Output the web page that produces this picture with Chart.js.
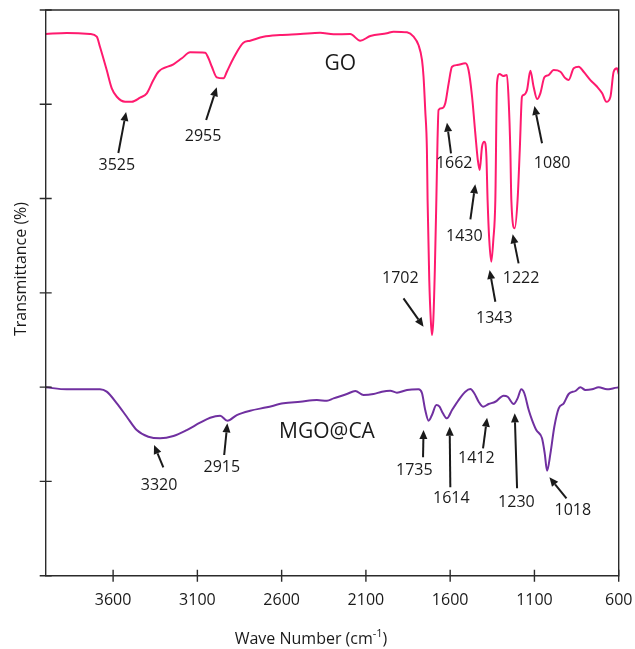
<!DOCTYPE html>
<html><head><meta charset="utf-8">
<script src="https://cdn.jsdelivr.net/npm/chart.js@4.4.1/dist/chart.umd.min.js"></script>
<style>html,body{margin:0;padding:0;background:#fff}canvas{display:block}</style>
</head><body>
<canvas id="c" width="635" height="649"></canvas>
<script>
// ---- data ----
const goWave = [4000,3875,3737,3697,3678,3638,3608,3578,3529,3489,3440,3400,3361,3331,3242,3192,3143,3054,3034,3014,2985,2945,2925,2886,2827,2787,2708,2609,2490,2372,2292,2193,2134,2074,1975,1936,1856,1817,1788,1767,1758,1748,1738,1734,1724,1715,1708,1700,1691,1682,1675,1669,1649,1629,1609,1589,1559,1510,1491,1470,1451,1436,1425,1411,1397,1385,1378,1368,1356,1344,1332,1322,1307,1285,1263,1253,1243,1237,1217,1200,1187,1174,1164,1144,1124,1105,1084,1065,1041,1016,986,946,916,897,867,837,808,768,728,698,673,649,630,610,600];
const goT = [57.45,57.56,57.45,57.17,56.1,53.63,51.69,50.8,50.27,50.27,50.7,51.16,52.57,53.45,54.24,54.88,55.51,55.47,54.88,53.98,52.86,52.75,53.45,54.88,56.53,56.74,57.17,57.35,57.45,57.59,57.42,57.45,56.74,57.24,57.53,57.70,57.63,57.17,56.29,54.69,52.92,49.39,45.15,39.85,31.36,27.12,25.53,27.12,32.42,39.85,46.21,49.39,49.57,50.10,52.22,53.98,54.16,54.34,53.63,50.8,46.95,44.09,43.03,45.5,46.03,44.44,39.85,35.6,33.3,35.6,39.85,52.26,53.21,53.0,53.1,50.45,45.15,39.85,36.85,39.85,45.15,50.8,50.98,51.51,53.56,51.86,50.56,51.16,52.86,53.1,53.63,53.45,52.75,52.57,53.82,53.98,53.45,52.57,51.86,51.16,50.27,50.8,53.45,53.82,53.2];
const mgoWave = [4000,3875,3678,3638,3578,3519,3460,3391,3321,3242,3163,3084,3024,2965,2922,2866,2787,2688,2589,2490,2391,2331,2292,2213,2163,2114,2055,2005,1956,1916,1856,1788,1767,1748,1728,1708,1682,1663,1643,1619,1589,1550,1510,1480,1457,1431,1405,1372,1332,1283,1259,1223,1200,1178,1160,1134,1114,1089,1055,1039,1025,1005,982,956,926,897,857,827,798,758,719,669,630,600];
const mgoT = [19.98,19.77,19.77,19.52,18.28,16.86,15.45,14.74,14.57,14.82,15.45,16.23,16.76,16.97,16.44,17.04,17.5,17.86,18.28,18.45,18.63,18.56,18.81,19.27,19.59,19.16,19.27,19.52,19.62,19.41,19.70,19.77,19.35,17.57,16.44,17.04,18.1,17.92,17.22,16.69,17.57,18.63,19.52,19.8,19.35,18.45,17.92,18.21,18.45,19.09,18.98,18.21,18.81,19.77,19.35,17.57,16.51,15.45,14.57,12.98,11.14,12.98,15.8,17.75,18.28,19.27,19.59,19.98,19.70,19.77,19.98,19.77,19.88,19.98];
const xTickValues = [3600,3100,2600,2100,1600,1100,600];
const yTickValues = [0,10,20,30,40,50,60];
const seriesNames = ['GO','MGO@CA'];
// peak labels: text, label anchor (wavenumber, T), arrow tail, arrow head
const peakText  = ['3525','2955','1662','1080','1430','1343','1222','1702','3320','2915','1735','1614','1412','1230','1018'];
const peakLabelW = [3578,3066,1576,995,1516,1338,1179,1896,3327,2955,1813,1593,1445,1207,872];
const peakLabelT = [43.56,46.63,43.74,43.74,35.95,27.3,31.54,31.54,9.62,11.48,11.21,8.21,12.45,7.74,6.97];
const arrowTailW = [3569,3048,1595,1055,1480,1332,1194,1877,3302,2941,1761,1599,1405,1203,910];
const arrowTailT = [44.83,48.33,44.8,45.86,37.8,29.06,33.13,29.42,11.5,12.8,12.56,9.38,13.51,9.27,8.21];
const arrowHeadW = [3523,2985,1619,1100,1451,1366,1229,1758,3357,2922,1758,1603,1381,1217,1011];
const arrowHeadT = [49.18,51.8,48.05,49.82,41.51,32.42,36.21,26.41,13.86,16.16,15.45,15.8,16.76,17.22,10.44];
const nameLabelW = [2252,2331];
const nameLabelT = [54.22,15.24];

const FONT = "'Open Sans', 'Liberation Sans', sans-serif";
const INK = '#1a1a1a';

const decor = {
  id:'decor',
  afterDraw(chart){
    const ctx = chart.ctx, a = chart.chartArea, xs = chart.scales.x, ys = chart.scales.y;
    ctx.save();
    // frame
    ctx.strokeStyle = '#2b2b2b'; ctx.lineWidth = 1.4;
    ctx.beginPath();
    ctx.moveTo(a.left, a.top); ctx.lineTo(a.right, a.top); ctx.lineTo(a.right, a.bottom); ctx.lineTo(a.left, a.bottom); ctx.closePath();
    ctx.stroke();
    // ticks crossing the axes
    ctx.beginPath();
    yTickValues.forEach(v => { const y = ys.getPixelForValue(v); ctx.moveTo(a.left - 6, y); ctx.lineTo(a.left + 6, y); });
    xTickValues.forEach(v => { const x = xs.getPixelForValue(v); ctx.moveTo(x, a.bottom - 6); ctx.lineTo(x, a.bottom + 6); });
    ctx.stroke();
    // peak labels and arrows
    ctx.fillStyle = INK; ctx.strokeStyle = INK;
    ctx.font = '16px ' + FONT; ctx.textAlign = 'center'; ctx.textBaseline = 'middle';
    peakText.forEach((t, i) => {
      ctx.fillText(t, xs.getPixelForValue(peakLabelW[i]), ys.getPixelForValue(peakLabelT[i]));
      const x1 = xs.getPixelForValue(arrowTailW[i]), y1 = ys.getPixelForValue(arrowTailT[i]);
      const x2 = xs.getPixelForValue(arrowHeadW[i]), y2 = ys.getPixelForValue(arrowHeadT[i]);
      const ang = Math.atan2(y2 - y1, x2 - x1), L = 9, H = 4;
      const bx = x2 - L * Math.cos(ang), by = y2 - L * Math.sin(ang);
      ctx.lineWidth = 2;
      ctx.beginPath(); ctx.moveTo(x1, y1); ctx.lineTo(bx, by); ctx.stroke();
      ctx.beginPath();
      ctx.moveTo(x2, y2);
      ctx.lineTo(bx + H * Math.sin(ang), by - H * Math.cos(ang));
      ctx.lineTo(bx - H * Math.sin(ang), by + H * Math.cos(ang));
      ctx.closePath(); ctx.fill();
    });
    // series names
    ctx.font = '21px ' + FONT;
    seriesNames.forEach((n, i) => ctx.fillText(n, xs.getPixelForValue(nameLabelW[i]), ys.getPixelForValue(nameLabelT[i])));
    // axis titles
    ctx.font = '16px ' + FONT;
    ctx.save(); ctx.translate(21.5, 269); ctx.rotate(-Math.PI / 2); ctx.fillText('Transmittance (%)', 0, 0); ctx.restore();
    const p1 = 'Wave Number (cm', sup = '-1', p2 = ')';
    const w1 = ctx.measureText(p1).width, w3 = ctx.measureText(p2).width;
    ctx.font = '11px ' + FONT; const w2 = ctx.measureText(sup).width;
    const total = w1 + w2 + w3, cx = 311, cy = 639;
    let x0 = cx - total / 2;
    ctx.textAlign = 'left';
    ctx.font = '16px ' + FONT; ctx.fillText(p1, x0, cy);
    ctx.font = '11px ' + FONT; ctx.fillText(sup, x0 + w1, cy - 5);
    ctx.font = '16px ' + FONT; ctx.fillText(p2, x0 + w1 + w2, cy);
    ctx.restore();
  }
};

new Chart(document.getElementById('c'), {
  type: 'line',
  data: { datasets: [
    { label: seriesNames[0], data: goWave.map((w, i) => ({ x: w, y: goT[i] })), borderColor: '#ff1a6e', borderWidth: 2, pointRadius: 0, cubicInterpolationMode: 'monotone', fill: false },
    { label: seriesNames[1], data: mgoWave.map((w, i) => ({ x: w, y: mgoT[i] })), borderColor: '#7030a0', borderWidth: 2, pointRadius: 0, cubicInterpolationMode: 'monotone', fill: false }
  ]},
  options: {
    responsive: false, animation: false, devicePixelRatio: 1,
    layout: { padding: { top: 10, right: 16.3, left: 0, bottom: 0 } },
    plugins: { legend: { display: false }, tooltip: { enabled: false } },
    scales: {
      x: { type: 'linear', reverse: true, min: 600, max: 4000,
        afterBuildTicks: s => { s.ticks = xTickValues.map(v => ({ value: v })); },
        afterFit: s => { s.height = 73.3; s.paddingLeft = 0; s.paddingRight = 0; },
        grid: { display: false, drawTicks: false }, border: { display: false },
        ticks: { padding: 15, autoSkip: false, maxRotation: 0, color: INK, font: { family: FONT, size: 16 }, callback: v => String(v) } },
      y: { type: 'linear', min: 0, max: 60,
        afterBuildTicks: s => { s.ticks = yTickValues.map(v => ({ value: v })); },
        afterFit: s => { s.width = 45.7; s.paddingTop = 0; s.paddingBottom = 0; },
        grid: { display: false, drawTicks: false }, border: { display: false },
        ticks: { display: false } }
    }
  },
  plugins: [decor]
});
</script>
</body></html>
